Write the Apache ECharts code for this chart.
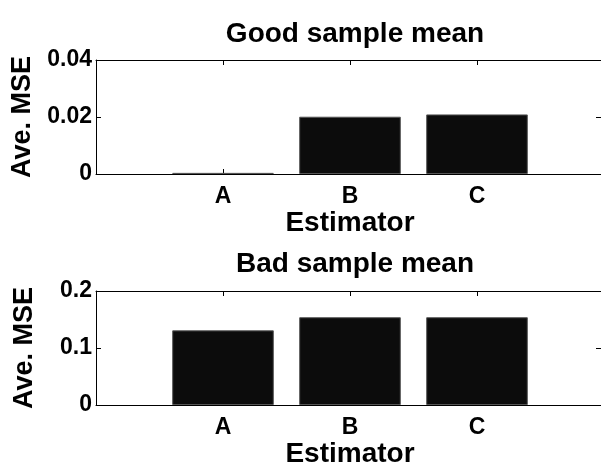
<!DOCTYPE html>
<html>
<head>
<meta charset="utf-8">
<script src="https://cdn.jsdelivr.net/npm/echarts@6/dist/echarts.min.js"></script>
<style>
html,body{margin:0;padding:0;background:#fff;}
#c{width:601px;height:464px;}
</style>
</head>
<body>
<div id="c"></div>
<script>
var categories = ['A', 'B', 'C'];
var goodMSE = [0.0004, 0.0201, 0.0209];
var badMSE = [0.131, 0.154, 0.154];
var goodTicks = {min: 0, max: 0.04, interval: 0.02};
var badTicks = {min: 0, max: 0.2, interval: 0.1};
var titles = ['Good sample mean', 'Bad sample mean'];
var xName = 'Estimator';
var yName = 'Ave. MSE';

var FONT = '"Liberation Sans", Arial, Helvetica, sans-serif';
var axisCats = [''].concat(categories).concat(['']);
function pad(arr){ return [null].concat(arr).concat([null]); }

var grids = [
  {left: 96, width: 508, top: 60, height: 114, containLabel: false, outerBoundsMode: 'none'},
  {left: 96, width: 508, top: 291, height: 114, containLabel: false, outerBoundsMode: 'none'}
];
var lineStyle = {color: '#000', width: 1};

function xAxes(gi){
  return [
    {type:'category', gridIndex: gi, data: axisCats, boundaryGap: false, position:'bottom',
     axisLine:{show:true, onZero:false, lineStyle: lineStyle}, axisTick:{show:true, inside:true, length:5, lineStyle: lineStyle},
     axisLabel:{color:'#000', fontFamily: FONT, fontWeight:'bold', fontSize: 23, margin: 11},
     name: xName, nameLocation:'middle', nameGap: 33,
     nameTextStyle:{color:'#000', fontFamily: FONT, fontWeight:'bold', fontSize: 28},
     splitLine:{show:false}},
    {type:'category', gridIndex: gi, data: axisCats, boundaryGap: false, position:'top',
     axisLine:{show:true, onZero:false, lineStyle: lineStyle}, axisTick:{show:true, inside:true, length:5, lineStyle: lineStyle},
     axisLabel:{show:false}, splitLine:{show:false}}
  ];
}
function yAxes(gi, t){
  return [
    {type:'value', gridIndex: gi, min: t.min, max: t.max, interval: t.interval, position:'left',
     axisLine:{show:true, onZero:false, lineStyle: lineStyle}, axisTick:{show:true, inside:true, length:5, lineStyle: lineStyle},
     axisLabel:{color:'#000', fontFamily: FONT, fontWeight:'bold', fontSize: 23, margin: 4},
     name: yName, nameLocation:'middle', nameRotate: 90, nameGap: 58,
     nameTextStyle:{color:'#000', fontFamily: FONT, fontWeight:'bold', fontSize: 27},
     splitLine:{show:false}},
    {type:'value', gridIndex: gi, min: t.min, max: t.max, interval: t.interval, position:'right',
     axisLine:{show:true, onZero:false, lineStyle: lineStyle}, axisTick:{show:true, inside:true, length:8, lineStyle: lineStyle},
     axisLabel:{show:false}, splitLine:{show:false}}
  ];
}

var barStyle = {color:'#0c0c0c', borderColor:'#555', borderWidth: 1};

var option = {
  animation: false,
  backgroundColor: '#fff',
  title: [
    {text: titles[0], left: 350, top: 15, textAlign:'center',
     textStyle:{color:'#000', fontFamily: FONT, fontWeight:'bold', fontSize: 28}},
    {text: titles[1], left: 350, top: 245, textAlign:'center',
     textStyle:{color:'#000', fontFamily: FONT, fontWeight:'bold', fontSize: 28}}
  ],
  grid: grids,
  xAxis: xAxes(0).concat(xAxes(1)),
  yAxis: yAxes(0, goodTicks).concat(yAxes(1, badTicks)),
  series: [
    {type:'bar', xAxisIndex:0, yAxisIndex:0, data: pad(goodMSE), barWidth:'80%', itemStyle: barStyle},
    {type:'bar', xAxisIndex:2, yAxisIndex:2, data: pad(badMSE), barWidth:'80%', itemStyle: barStyle}
  ]
};
var chart = echarts.init(document.getElementById('c'), null, {renderer:'canvas'});
chart.setOption(option);
</script>
</body>
</html>
